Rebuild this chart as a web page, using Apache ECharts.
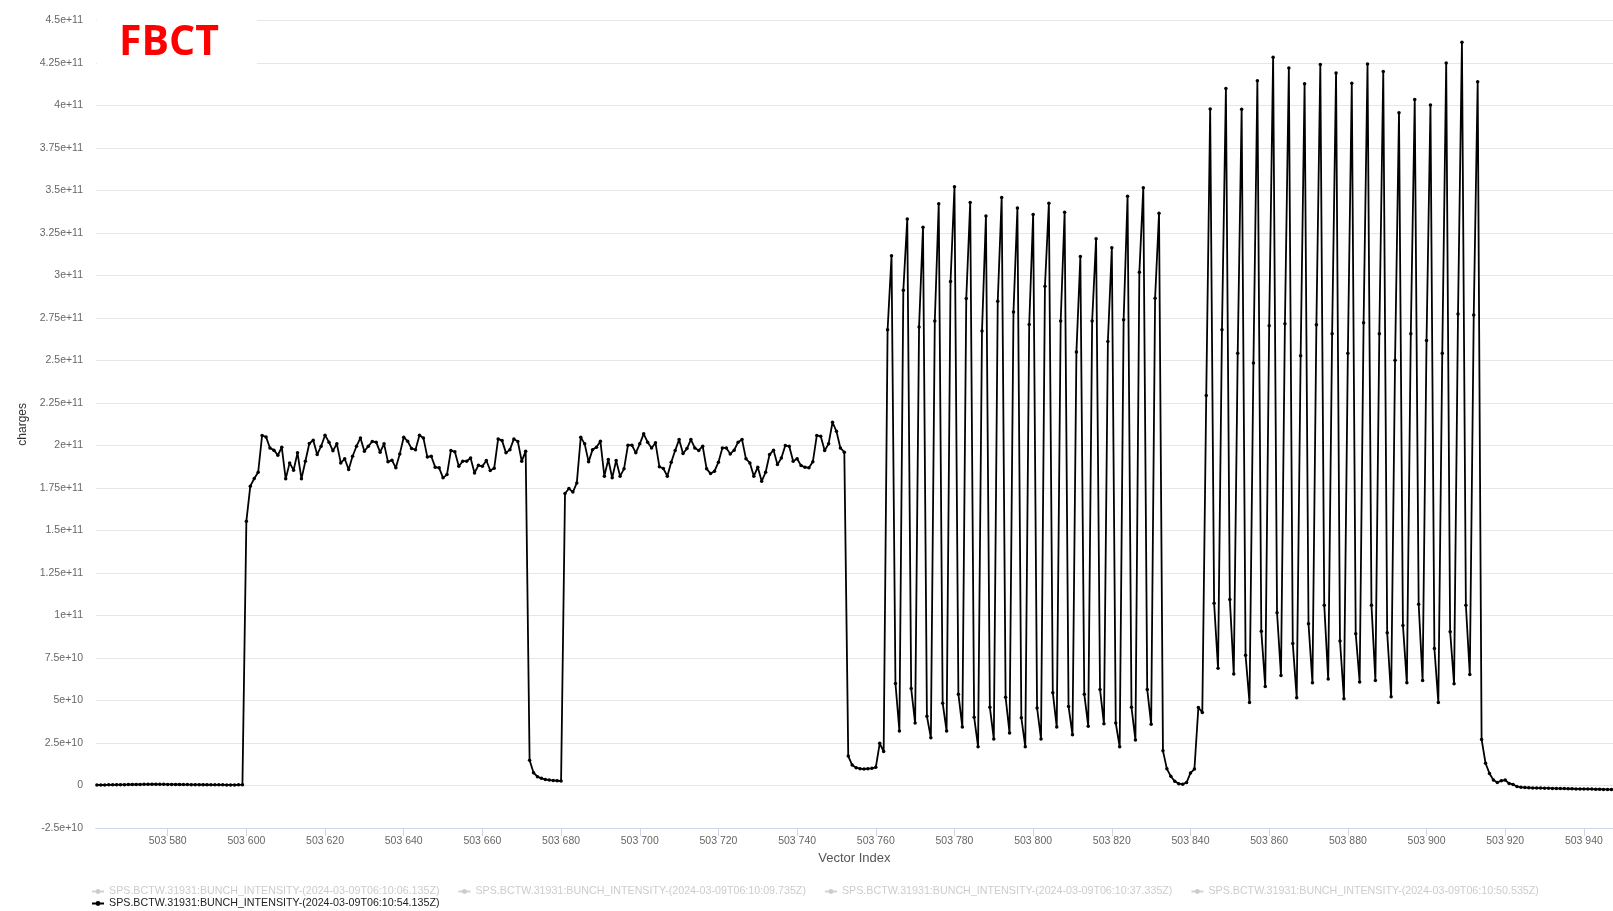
<!DOCTYPE html>
<html>
<head>
<meta charset="utf-8">
<script src="https://cdn.jsdelivr.net/npm/echarts@6/dist/echarts.min.js"></script>
<style>
html,body{margin:0;padding:0;background:#fff;}
#chart{width:1613px;height:911px;}
</style>
</head>
<body>
<div id="chart"></div>
<script>
// ---- data ----
const firstIndex = 503562;
// charges in units of 1e9 for Vector Index 503562 .. 503947
const chargesE9 = [
  // 503562-503599
  0.3,0.3,0.35,0.4,0.4,0.45,0.5,
  0.5,0.55,0.6,0.6,0.65,0.7,0.7,
  0.75,0.75,0.7,0.7,0.65,0.65,0.6,
  0.6,0.55,0.55,0.5,0.5,0.5,0.45,
  0.45,0.4,0.4,0.4,0.4,0.35,0.35,0.35,0.4,0.5,
  // 503600-503671
  155.5,176.1,180.6,184.3,205.9,205.1,198.6,197.3,194.3,199.0,
  180.4,189.8,185.5,195.7,180.4,190.8,201.2,203.1,194.7,199.6,
  206.1,202.0,196.9,201.0,189.8,192.2,185.9,193.7,199.6,204.5,
  196.7,199.6,202.4,202.0,196.1,201.0,190.4,191.4,186.9,195.1,
  204.9,202.5,198.2,197.6,206.1,204.5,193.3,193.7,187.3,186.9,
  181.0,182.9,197.1,196.3,187.8,190.8,190.8,192.7,183.9,188.4,
  187.8,191.2,185.3,186.7,203.9,202.9,195.7,197.6,203.9,202.4,
  190.8,196.7,
  // 503672-503680
  14.8,7.5,5.2,4.2,3.6,3.2,3.0,2.8,2.6,
  // 503681-503752
  171.8,174.7,172.6,178.0,204.9,201.0,190.4,197.6,199.0,202.5,
  182.0,191.8,181.0,191.2,182.0,186.3,200.2,200.2,195.7,201.0,
  206.9,202.0,198.6,201.6,187.5,186.5,182.0,190.2,197.1,203.5,
  195.3,198.2,203.5,198.6,197.1,199.6,186.3,183.5,184.9,190.2,
  198.6,198.6,195.1,197.3,202.0,203.5,192.2,189.8,182.0,187.3,
  179.0,184.3,194.7,197.3,188.8,192.7,200.0,199.6,190.8,192.2,
  188.2,187.3,186.9,190.4,205.9,205.5,197.1,201.0,213.7,208.4,
  198.6,196.1,
  // 503753-503762
  17.3,12.0,10.5,9.9,9.7,9.9,10.1,10.7,24.8,20.0,
  // 503763-503832
  268.1,311.6,60.0,32.1,291.4,333.3,57.0,36.7,269.8,328.4,
  40.7,28.1,273.3,342.3,48.4,32.1,296.5,352.3,53.7,34.4,
  286.5,343.0,40.2,22.8,267.4,335.1,46.0,27.4,284.9,346.0,
  51.9,30.9,278.6,339.8,39.8,22.8,271.2,336.0,45.6,27.4,
  293.7,342.6,54.6,34.4,273.3,337.2,46.5,29.8,255.1,311.2,
  53.7,34.9,273.3,321.6,56.5,36.3,261.2,316.3,36.7,22.8,
  274.0,346.7,46.0,26.7,301.9,351.6,56.5,36.0,286.7,336.7,
  // 503833-503843
  20.4,9.8,5.4,2.5,1.1,0.8,1.7,7.4,9.7,45.9,43.0,
  // 503844-503913
  229.4,398.0,107.2,69.0,268.1,410.0,109.5,65.6,254.3,397.8,
  76.6,48.8,248.5,414.6,90.7,58.3,270.5,428.5,101.7,64.7,
  271.6,422.1,83.5,51.7,252.8,412.8,95.1,60.4,271.0,424.1,
  106.1,62.7,265.8,419.2,85.0,51.1,254.3,413.1,89.3,60.9,
  272.2,424.4,106.1,61.8,265.8,420.1,89.9,52.2,250.2,395.8,
  94.2,60.4,265.8,403.6,106.7,61.8,261.8,400.4,80.6,48.8,
  254.3,425.0,90.5,59.8,277.4,437.2,106.1,65.3,276.8,414.0,
  // 503914-503947
  27.1,13.1,7.1,3.2,1.8,2.8,3.2,1.2,0.6,-0.6,
  -1.0,-1.2,-1.3,-1.4,-1.5,-1.5,-1.6,-1.6,-1.7,-1.7,
  -1.8,-1.8,-1.9,-1.9,-2.0,-2.0,-2.0,-2.1,-2.1,-2.2,
  -2.2,-2.3,-2.3,-2.4
];
const xTicks = [503580,503600,503620,503640,503660,503680,503700,503720,503740,503760,
                503780,503800,503820,503840,503860,503880,503900,503920,503940];
const seriesNames = [
  'SPS.BCTW.31931:BUNCH_INTENSITY-(2024-03-09T06:10:06.135Z)',
  'SPS.BCTW.31931:BUNCH_INTENSITY-(2024-03-09T06:10:09.735Z)',
  'SPS.BCTW.31931:BUNCH_INTENSITY-(2024-03-09T06:10:37.335Z)',
  'SPS.BCTW.31931:BUNCH_INTENSITY-(2024-03-09T06:10:50.535Z)',
  'SPS.BCTW.31931:BUNCH_INTENSITY-(2024-03-09T06:10:54.135Z)'
];
const hiddenNames = seriesNames.slice(0, 4);
const shownName = seriesNames[4];
const titleText = 'FBCT';

// ---- build ----
const points = chargesE9.map((v, i) => [firstIndex + i, v * 1e9]);
const selected = {};
hiddenNames.forEach(n => selected[n] = false);
selected[shownName] = true;

const FONT = '"Liberation Sans", Arial, sans-serif';

const series = hiddenNames.map(n => ({
  name: n, type: 'line', data: [], color: '#999', symbol: 'circle', symbolSize: 3
}));
series.push({
  name: shownName,
  type: 'line',
  data: points,
  color: '#000',
  symbol: 'circle',
  symbolSize: 3.5,
  showAllSymbol: true,
  lineStyle: { width: 1.8, color: '#000' },
  itemStyle: { color: '#000' },
  z: 3
});

const chart = echarts.init(document.getElementById('chart'), null, { renderer: 'canvas' });
chart.setOption({
  animation: false,
  backgroundColor: '#fff',
  grid: { left: 95.7, right: 0, top: 20.6, bottom: 83, containLabel: false },
  xAxis: {
    type: 'value',
    min: 503561.7,
    max: 503947.4,
    name: 'Vector Index',
    nameLocation: 'middle',
    nameGap: 24,
    nameTextStyle: { fontFamily: FONT, fontSize: 13, color: '#555' },
    axisLine: { show: true, onZero: false, lineStyle: { color: '#ccd6eb', width: 1 } },
    axisTick: { show: true, length: 8, lineStyle: { color: '#ccd6eb' }, customValues: xTicks },
    axisLabel: {
      customValues: xTicks,
      margin: 8,
      fontFamily: FONT, fontSize: 10.5, color: '#666',
      formatter: v => { const s = String(Math.round(v)); return s.slice(0, 3) + ' ' + s.slice(3); }
    },
    splitLine: { show: false }
  },
  yAxis: {
    type: 'value',
    min: -2.5e10,
    max: 4.5e11,
    interval: 2.5e10,
    name: 'charges',
    nameLocation: 'middle',
    nameGap: 59,
    nameTextStyle: { fontFamily: FONT, fontSize: 12, color: '#333' },
    axisLine: { show: false },
    axisTick: { show: false },
    axisLabel: {
      margin: 12.7,
      fontFamily: FONT, fontSize: 10.5, color: '#666',
      formatter: v => {
        if (Math.abs(v) < 1) return '0';
        return Number(v.toPrecision(6)).toExponential();
      }
    },
    splitLine: { show: true, lineStyle: { color: '#e6e6e6', width: 1 } }
  },
  legend: [
    {
      data: hiddenNames,
      selected: selected,
      left: 86, top: 881,
      orient: 'horizontal',
      itemWidth: 12, itemHeight: 6, itemGap: 18,
      inactiveColor: '#ccc',
      textStyle: { fontFamily: FONT, fontSize: 10.7, color: '#222', padding: 0 }
    },
    {
      data: [shownName],
      selected: selected,
      left: 86, top: 893,
      orient: 'horizontal',
      itemWidth: 12, itemHeight: 6, itemGap: 18,
      inactiveColor: '#ccc',
      textStyle: { fontFamily: FONT, fontSize: 10.7, color: '#222', padding: 0 }
    }
  ],
  graphic: [
    {
      type: 'rect', z: 100, silent: true,
      shape: { x: 97, y: 0, width: 160, height: 80 },
      style: { fill: '#fff' }
    },
    {
      type: 'text', z: 101, silent: true,
      x: 119, y: 43,
      style: {
        text: titleText,
        fill: '#ff0000',
        font: 'bold 41px "Open Sans", "Noto Sans", sans-serif',
        verticalAlign: 'middle', align: 'left'
      }
    }
  ],
  series: series
});
</script>
</body>
</html>
